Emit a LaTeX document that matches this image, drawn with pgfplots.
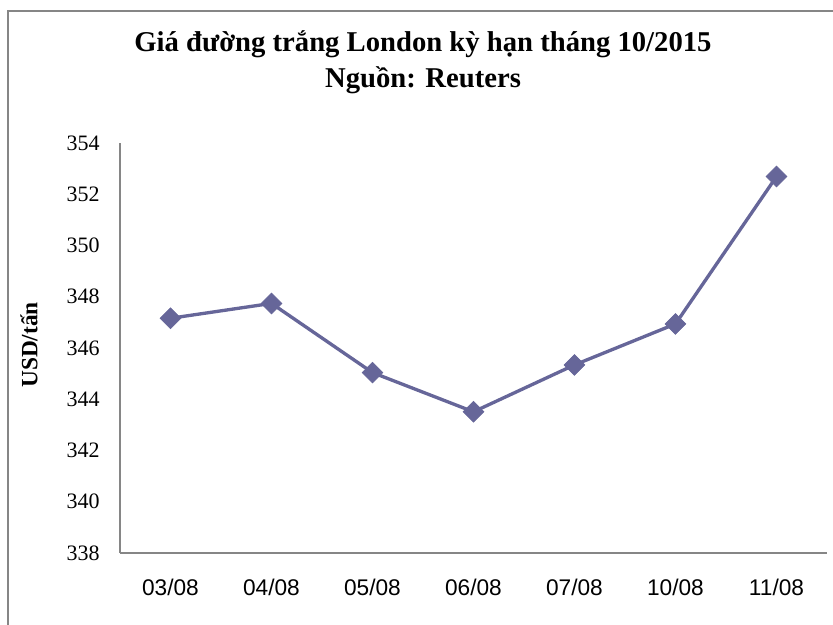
\documentclass[border=0pt]{standalone}
\usepackage{fontspec}
\setmainfont{Liberation Serif}
\newfontfamily\arial{Liberation Sans}
\usepackage{pgfplots}
\pgfplotsset{compat=1.18}
\definecolor{serieBlue}{RGB}{102,102,153}
\definecolor{frameGray}{RGB}{134,134,134}

\begin{document}
\begin{tikzpicture}[x=0.75pt,y=0.75pt]
\useasboundingbox (0,0) rectangle (833,625);
% chart frame (only left and top visible)
\draw[frameGray, line width=1.1pt] (8,0) -- (8,614) -- (833,614);
% title
\node[font=\fontsize{21.5}{25}\selectfont\bfseries] at (423,581)
  {Giá đường trắng London kỳ hạn tháng 10/2015};
\node[font=\fontsize{21.5}{25}\selectfont\bfseries] at (423,545)
  {Nguồn: Reuters};
% y label
\node[font=\fontsize{17.5}{20}\selectfont\bfseries, rotate=90] at (29,280)
  {USD/tấn};
\begin{axis}[
  at={(90pt,54pt)}, anchor=south west,
  scale only axis,
  width=530.25pt, height=307.5pt,
  xmin=-0.5, xmax=6.5,
  ymin=338, ymax=354,
  ytick={338,340,...,354},
  xtick={0,...,6},
  xticklabels={03/08,04/08,05/08,06/08,07/08,10/08,11/08},
  axis x line*=bottom, axis y line*=left,
  axis line style={frameGray, line width=0.9pt, -},
  major tick length=0pt,
  tick style={draw=none},
  /pgf/number format/assume math mode=true,
  /pgf/number format/1000 sep={},
  xticklabel style={font=\arial\fontsize{17}{20}\selectfont,
    anchor=center, inner sep=0pt, yshift=-26pt},
  yticklabel style={font=\fontsize{16.5}{20}\selectfont,
    anchor=east, inner sep=0pt, xshift=-15pt},
  clip=false,
]
\addplot[serieBlue, line width=2.5pt,
  mark=square*, mark size=5.5pt,
  mark options={rotate=45, line width=0.5pt, fill=serieBlue, draw=serieBlue}]
  coordinates {(0,347.16)(1,347.74)(2,345.04)(3,343.51)(4,345.34)(5,346.94)(6,352.69)};
\end{axis}
\end{tikzpicture}
\end{document}
